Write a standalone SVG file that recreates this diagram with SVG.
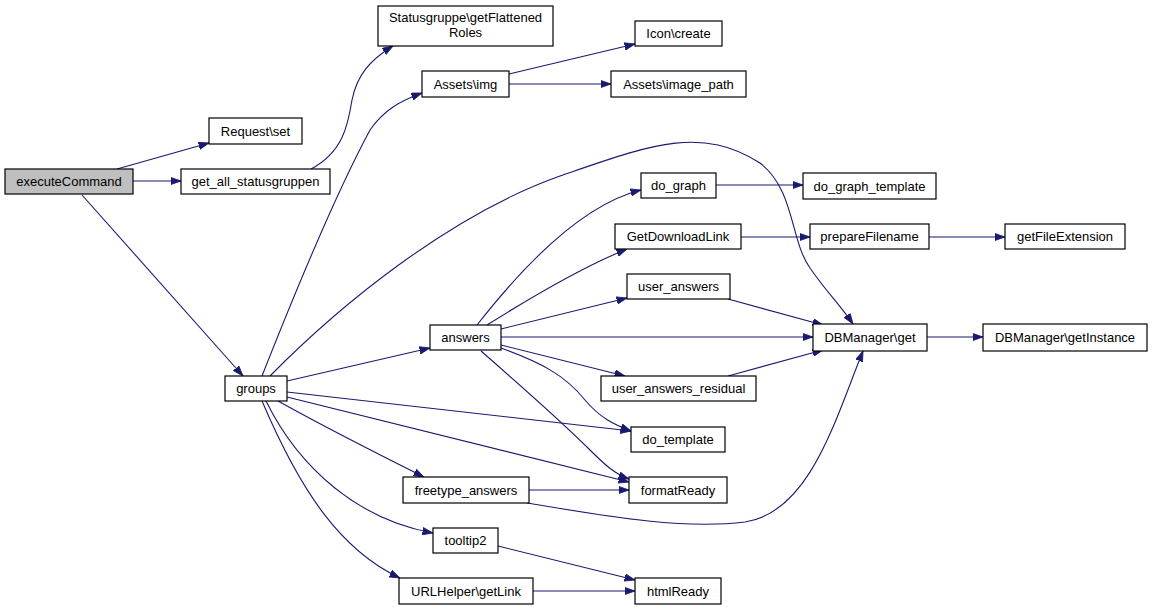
<svg xmlns="http://www.w3.org/2000/svg" width="1152" height="610" viewBox="0 0 1152 610">
<style>
.n rect{fill:#fff;stroke:#000;stroke-width:1.2}
.n text{font-family:"Liberation Sans",Arial,sans-serif;font-size:13px;text-anchor:middle;fill:#000}
#edges path{fill:none;stroke:#191970;stroke-width:1.1;marker-end:url(#ah)}
</style>
<defs>
<marker id="ah" markerUnits="userSpaceOnUse" markerWidth="11" markerHeight="8" refX="10.5" refY="4" orient="auto">
<path d="M0,0.3 L10.5,4 L0,7.7 z" fill="#191970" stroke="#191970" stroke-width="0.8"/>
</marker>
</defs>
<rect width="1152" height="610" fill="#fff"/>
<g id="edges">
<path d="M117,169 L209,143"/>
<path d="M133,181 L181,181"/>
<path d="M82,195 L243,376"/>
<path d="M311,169 C343,152 348,125 352,100 C357,75 370,60 393,46"/>
<path d="M262,376 C290,305 335,195 370,130 C384,110 400,101 422,93"/>
<path d="M270,376 C340,305 450,215 560,176 C650,145 700,125 760,163 C795,190 790,240 810,268 C825,290 840,305 853,324"/>
<path d="M287,381 L430,348"/>
<path d="M287,392 L631,431"/>
<path d="M287,397 L629,482"/>
<path d="M278,401 C330,430 380,455 424,477"/>
<path d="M266,401 C300,470 360,520 433,533"/>
<path d="M262,401 C300,490 340,550 400,578"/>
<path d="M477,325 C520,270 580,205 641,190"/>
<path d="M487,325 C530,298 580,268 627,249"/>
<path d="M501,329 L627,298"/>
<path d="M501,337 L813,337"/>
<path d="M501,345 L625,376"/>
<path d="M501,348 C540,362 565,375 585,400 C600,418 615,425 631,431"/>
<path d="M481,351 C520,385 560,420 590,450 C605,465 615,474 629,479"/>
<path d="M716,185 L803,185"/>
<path d="M741,237 L810,237"/>
<path d="M929,237 L1005,237"/>
<path d="M728,299 L823,325"/>
<path d="M728,376 L823,350"/>
<path d="M927,337 L983,337"/>
<path d="M529,490 L629,490"/>
<path d="M527,503 C600,515 680,530 745,522 C810,512 835,420 863,351"/>
<path d="M498,546 L635,580"/>
<path d="M533,591 L635,591"/>
<path d="M509,74 L635,44"/>
<path d="M509,84 L611,84"/>
</g>
<g id="executeCommand" class="n"><rect x="5" y="169" width="128" height="25" style="fill:#bfbfbf"/><text x="69" y="186">executeCommand</text></g>
<g id="Request_set" class="n"><rect x="209" y="118" width="93" height="26"/><text x="255.5" y="135.5">Request\set</text></g>
<g id="get_all_statusgruppen" class="n"><rect x="181" y="169" width="149" height="25"/><text x="255.5" y="186">get_all_statusgruppen</text></g>
<g id="Statusgruppe_getFlattenedRoles" class="n"><rect x="378" y="6" width="175" height="40"/><text x="465.5" y="22">Statusgruppe\getFlattened</text><text x="465.5" y="37">Roles</text></g>
<g id="Assets_img" class="n"><rect x="422" y="71" width="87" height="26"/><text x="465.5" y="88.5">Assets\img</text></g>
<g id="Icon_create" class="n"><rect x="635" y="21" width="87" height="25"/><text x="678.5" y="38">Icon\create</text></g>
<g id="Assets_image_path" class="n"><rect x="611" y="71" width="135" height="26"/><text x="678.5" y="88.5">Assets\image_path</text></g>
<g id="do_graph" class="n"><rect x="641" y="173" width="75" height="25"/><text x="678.5" y="190">do_graph</text></g>
<g id="do_graph_template" class="n"><rect x="803" y="173" width="133" height="26"/><text x="869.5" y="190.5">do_graph_template</text></g>
<g id="GetDownloadLink" class="n"><rect x="615" y="224" width="126" height="25"/><text x="678" y="241">GetDownloadLink</text></g>
<g id="prepareFilename" class="n"><rect x="810" y="224" width="119" height="25"/><text x="869.5" y="241">prepareFilename</text></g>
<g id="getFileExtension" class="n"><rect x="1005" y="224" width="120" height="25"/><text x="1065" y="241">getFileExtension</text></g>
<g id="user_answers" class="n"><rect x="627" y="274" width="103" height="25"/><text x="678.5" y="291">user_answers</text></g>
<g id="DBManager_get" class="n"><rect x="813" y="324" width="114" height="27"/><text x="870" y="342">DBManager\get</text></g>
<g id="DBManager_getInstance" class="n"><rect x="983" y="324" width="164" height="27"/><text x="1065" y="342">DBManager\getInstance</text></g>
<g id="groups" class="n"><rect x="225" y="376" width="62" height="25"/><text x="256" y="393">groups</text></g>
<g id="answers" class="n"><rect x="430" y="325" width="71" height="25"/><text x="465.5" y="342">answers</text></g>
<g id="user_answers_residual" class="n"><rect x="601" y="376" width="155" height="25"/><text x="678.5" y="393">user_answers_residual</text></g>
<g id="do_template" class="n"><rect x="631" y="427" width="94" height="25"/><text x="678" y="444">do_template</text></g>
<g id="formatReady" class="n"><rect x="629" y="477" width="98" height="26"/><text x="678" y="494.5">formatReady</text></g>
<g id="freetype_answers" class="n"><rect x="403" y="477" width="126" height="26"/><text x="466" y="494.5">freetype_answers</text></g>
<g id="tooltip2" class="n"><rect x="433" y="528" width="65" height="25"/><text x="465.5" y="545">tooltip2</text></g>
<g id="URLHelper_getLink" class="n"><rect x="399" y="578" width="134" height="26"/><text x="466" y="595.5">URLHelper\getLink</text></g>
<g id="htmlReady" class="n"><rect x="635" y="578" width="86" height="26"/><text x="678" y="595.5">htmlReady</text></g>
</svg>
